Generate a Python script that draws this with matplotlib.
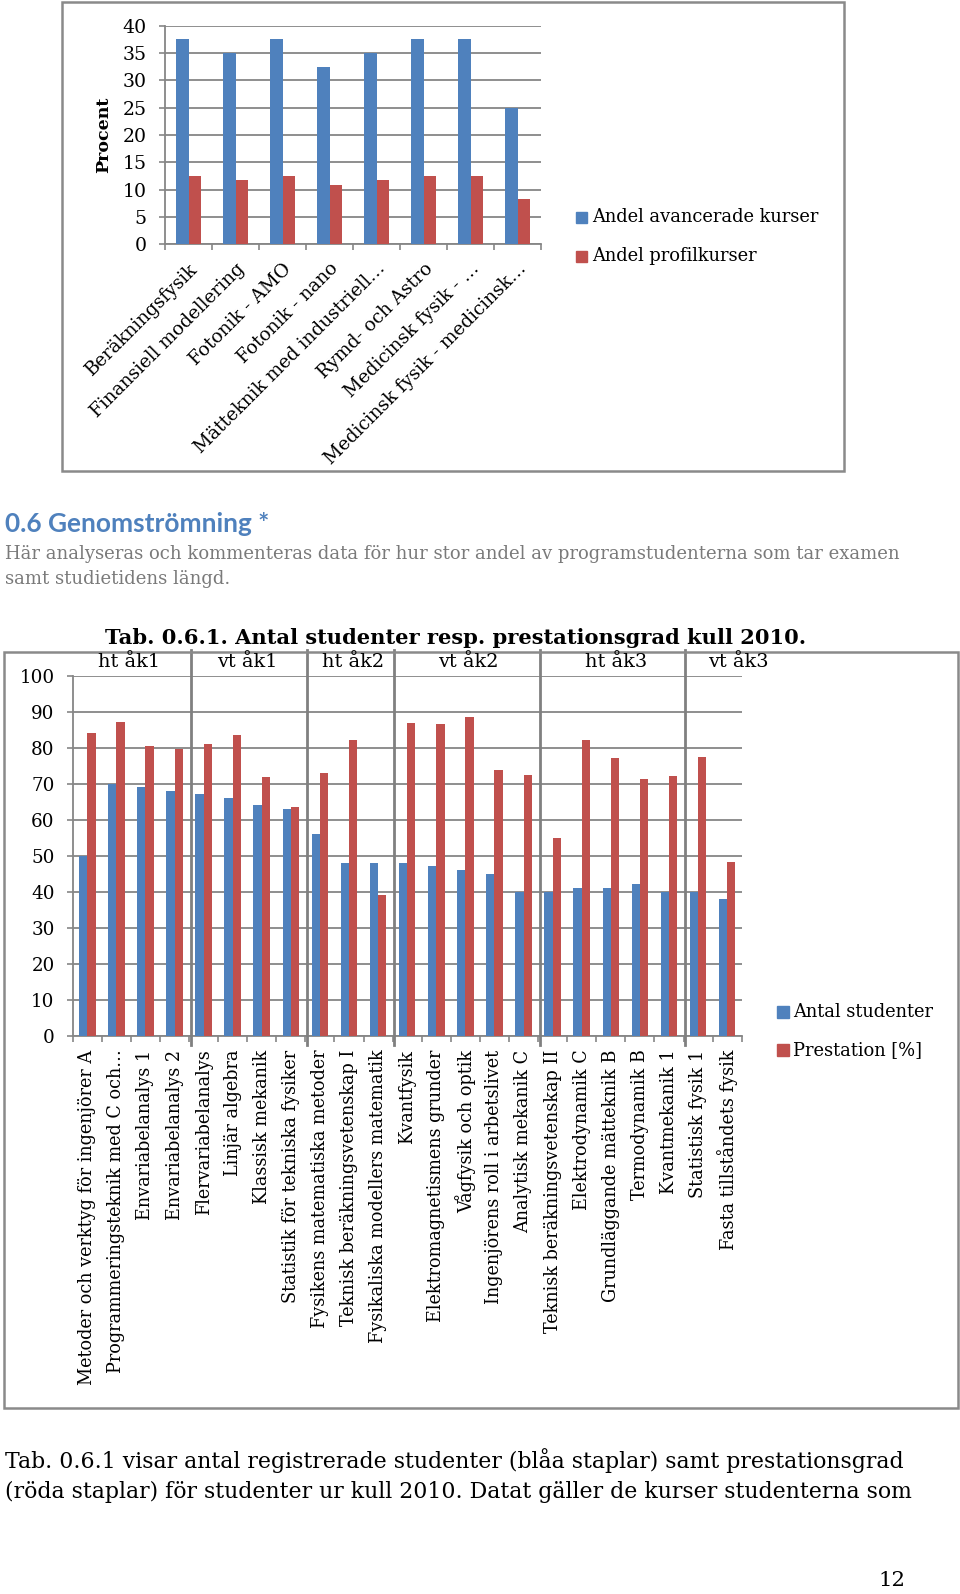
import matplotlib
matplotlib.use("Agg")
import matplotlib.pyplot as plt
from matplotlib.patches import Rectangle
from matplotlib.lines import Line2D
import matplotlib.transforms as mtrans
import numpy as np

# ---------------- data ----------------
top_categories = ["Beräkningsfysik", "Finansiell modellering", "Fotonik - AMO",
                  "Fotonik - nano", "Mätteknik med industriell…", "Rymd- och Astro",
                  "Medicinsk fysik - …", "Medicinsk fysik - medicinsk…"]
top_advanced = [37.5, 35.0, 37.5, 32.5, 35.0, 37.5, 37.5, 25.0]
top_profile = [12.5, 11.7, 12.5, 10.8, 11.7, 12.5, 12.5, 8.3]
top_series = ["Andel avancerade kurser", "Andel profilkurser"]
top_yticks = [0, 5, 10, 15, 20, 25, 30, 35, 40]

courses = ["Metoder och verktyg för ingenjörer A", "Programmeringsteknik med C och…",
           "Envariabelanalys 1", "Envariabelanalys 2", "Flervariabelanalys",
           "Linjär algebra", "Klassisk mekanik", "Statistik för tekniska fysiker",
           "Fysikens matematiska metoder", "Teknisk beräkningsvetenskap I",
           "Fysikaliska modellers matematik", "Kvantfysik",
           "Elektromagnetismens grunder", "Vågfysik och optik",
           "Ingenjörens roll i arbetslivet", "Analytisk mekanik C",
           "Teknisk beräkningsvetenskap II", "Elektrodynamik C",
           "Grundläggande mätteknik B", "Termodynamik B", "Kvantmekanik 1",
           "Statistisk fysik 1", "Fasta tillståndets fysik"]
students = [50, 70, 69, 68, 67, 66, 64, 63, 56, 48, 48, 48, 47, 46, 45, 40, 40,
            41, 41, 42, 40, 40, 38]
performance = [84, 87, 80.4, 79.6, 81, 83.5, 71.9, 63.4, 73, 82.1, 39, 86.8, 86.5,
               88.6, 73.8, 72.5, 55, 82.1, 77, 71.4, 72.2, 77.5, 48.2]
bottom_series = ["Antal studenter", "Prestation [%]"]
groups = ["ht åk1", "vt åk1", "ht åk2", "vt åk2", "ht åk3", "vt åk3"]
group_sizes = [4, 4, 3, 5, 5, 2]
bottom_yticks = list(range(0, 101, 10))

heading = "0.6 Genomströmning *"
para_lines = ["Här analyseras och kommenteras data för hur stor andel av programstudenterna som tar examen",
              "samt studietidens längd."]
title = "Tab. 0.6.1. Antal studenter resp. prestationsgrad kull 2010."
caption_lines = ["Tab. 0.6.1 visar antal registrerade studenter (blåa staplar) samt prestationsgrad",
                 "(röda staplar) för studenter ur kull 2010. Datat gäller de kurser studenterna som"]
page_no = "12"

# ---------------- styling ----------------
BLUE = "#4F81BD"
RED = "#C0504D"
GRID = "#868686"
FRAME = "#8a8a8a"
SERIF = "DejaVu Serif"

W, H = 960, 1594
fig = plt.figure(figsize=(W / 100, H / 100), dpi=100)
renderer = fig.canvas.get_renderer()


def fx(x):
    return x / W


def fy(y):
    return 1 - y / H


def rect(l, t, r, b):
    return [l / W, 1 - b / H, (r - l) / W, (b - t) / H]


def fit_size(s, width_px, **kw):
    t = fig.text(0, 0, s, fontsize=10, **kw)
    w = t.get_window_extent(renderer).width
    t.remove()
    return 10 * width_px / w


def style_axes(ax, ylim, yticks, ysize):
    ax.set_ylim(*ylim)
    ax.set_yticks(yticks)
    ax.set_yticklabels([str(v) for v in yticks], family=SERIF, fontsize=ysize)
    ax.yaxis.grid(True, color=GRID, lw=1.3)
    ax.set_axisbelow(True)
    for s in ["top", "right"]:
        ax.spines[s].set_visible(False)
    for s in ["left", "bottom"]:
        ax.spines[s].set_color(GRID)
        ax.spines[s].set_linewidth(1.3)
    ax.tick_params(axis="y", direction="out", length=4, width=1.2, color=GRID, pad=9)
    ax.tick_params(axis="x", which="major", length=0)
    ax.tick_params(axis="x", which="minor", direction="out", length=4, width=1.2,
                   color=GRID)


# ---------------- top chart ----------------
fig.add_artist(Rectangle((fx(62), fy(471)), (844 - 62) / W, (471 - 2) / H,
                         transform=fig.transFigure, fill=False, ec=FRAME, lw=1.8))
ax1 = fig.add_axes(rect(165, 25.7, 541, 244.3))
n1 = len(top_categories)
x1 = np.arange(n1)
w1 = 0.27
ax1.bar(x1 - w1 / 2, top_advanced, w1, color=BLUE, zorder=3)
ax1.bar(x1 + w1 / 2, top_profile, w1, color=RED, zorder=3)
ax1.set_xlim(-0.5, n1 - 0.5)
style_axes(ax1, (0, 40), top_yticks, fit_size("40", 24, family=SERIF))
ax1.set_xticks(x1)
ax1.set_xticks(np.arange(n1 + 1) - 0.5, minor=True)
xs1 = fit_size("Finansiell modellering", 212, family=SERIF)
ax1.set_xticklabels(top_categories, rotation=45, ha="right", va="top",
                    rotation_mode="anchor", family=SERIF, fontsize=xs1)
ax1.tick_params(axis="x", which="major", pad=11)
fig.text(fx(103.5), fy(135), "Procent", rotation=90, ha="center", va="center",
         family=SERIF, weight="bold",
         fontsize=fit_size("Procent", 76, family=SERIF, weight="bold"))

leg1 = fit_size(top_series[0], 230, family=SERIF)
for i, (name, col) in enumerate(zip(top_series, [BLUE, RED])):
    yc = 217 + 39 * i
    fig.add_artist(Rectangle((fx(575.5), fy(yc + 5.5)), 11 / W, 11 / H,
                             transform=fig.transFigure, color=col))
    fig.text(fx(592), fy(yc), name, ha="left", va="center", family=SERIF,
             fontsize=leg1)

# ---------------- text between ----------------
fig.text(fx(5), fy(524), heading, ha="left", va="center", family="Lato",
         weight="bold", color="#4F81BD",
         fontsize=fit_size(heading, 264, family="Lato", weight="bold"))
ps = fit_size(para_lines[0], 900, family=SERIF)
for i, line in enumerate(para_lines):
    fig.text(fx(5), fy(554 + 25.5 * i), line, ha="left", va="center",
             family=SERIF, color="#7a7a7a", fontsize=ps)

# ---------------- bottom chart ----------------
fig.add_artist(Rectangle((fx(3.5), fy(1408)), (958 - 3.5) / W, (1408 - 652) / H,
                         transform=fig.transFigure, fill=False, ec=FRAME, lw=1.8))
fig.text(fx(455.5), fy(638), title, ha="center", va="center", family=SERIF,
         weight="bold", fontsize=fit_size(title, 703, family=SERIF, weight="bold"))

ax2 = fig.add_axes(rect(72.7, 675.7, 741.7, 1035.7))
n2 = len(courses)
x2 = np.arange(n2)
w2 = 0.285
ax2.bar(x2 - w2 / 2, students, w2, color=BLUE, zorder=3)
ax2.bar(x2 + w2 / 2, performance, w2, color=RED, zorder=3)
ax2.set_xlim(-0.5, n2 - 0.5)
style_axes(ax2, (0, 100), bottom_yticks, fit_size("100", 35, family=SERIF))
ax2.set_xticks(x2)
ax2.set_xticks(np.arange(n2 + 1) - 0.5, minor=True)
xs2 = fit_size(courses[0], 338, family=SERIF)
ax2.set_xticklabels(courses, rotation=90, ha="center", va="top", family=SERIF,
                    fontsize=xs2)
ax2.tick_params(axis="x", which="major", pad=10)

# group separators and labels
bounds = np.cumsum(group_sizes)
starts = np.concatenate([[0], bounds[:-1]])
blend = mtrans.blended_transform_factory(ax2.transData, fig.transFigure)
for b in bounds[:-1]:
    ax2.add_line(Line2D([b - 0.5 + 0.05, b - 0.5 + 0.05], [fy(1045), fy(650)],
                        transform=blend, color="#808080", lw=2.0, clip_on=False,
                        zorder=5))
gsz = fit_size(groups[0], 62, family=SERIF)
label_shift = [-0.07, 0.0, 0.15, 0.1, 0.17, 0.9]
for g, s0, sz, sh in zip(groups, starts, group_sizes, label_shift):
    fig.text(0, 0, g, transform=blend, ha="center", va="center", family=SERIF,
             fontsize=gsz).set_position((s0 + sz / 2 - 0.5 + sh, fy(662)))

leg2 = fit_size(bottom_series[0], 142, family=SERIF)
for i, (name, col) in enumerate(zip(bottom_series, [BLUE, RED])):
    yc = 1012 + 38 * i
    fig.add_artist(Rectangle((fx(777), fy(yc + 6)), 12 / W, 12 / H,
                             transform=fig.transFigure, color=col))
    fig.text(fx(793), fy(yc), name, ha="left", va="center", family=SERIF,
             fontsize=leg2)

# ---------------- caption ----------------
cs = fit_size(caption_lines[0], 900, family=SERIF)
for i, line in enumerate(caption_lines):
    fig.text(fx(5), fy(1461 + 30.5 * i), line, ha="left", va="center",
             family=SERIF, fontsize=cs)
fig.text(fx(905), fy(1581), page_no, ha="right", va="center", family=SERIF,
         fontsize=fit_size(page_no, 27, family=SERIF))

fig.savefig("out.png", dpi=100)
